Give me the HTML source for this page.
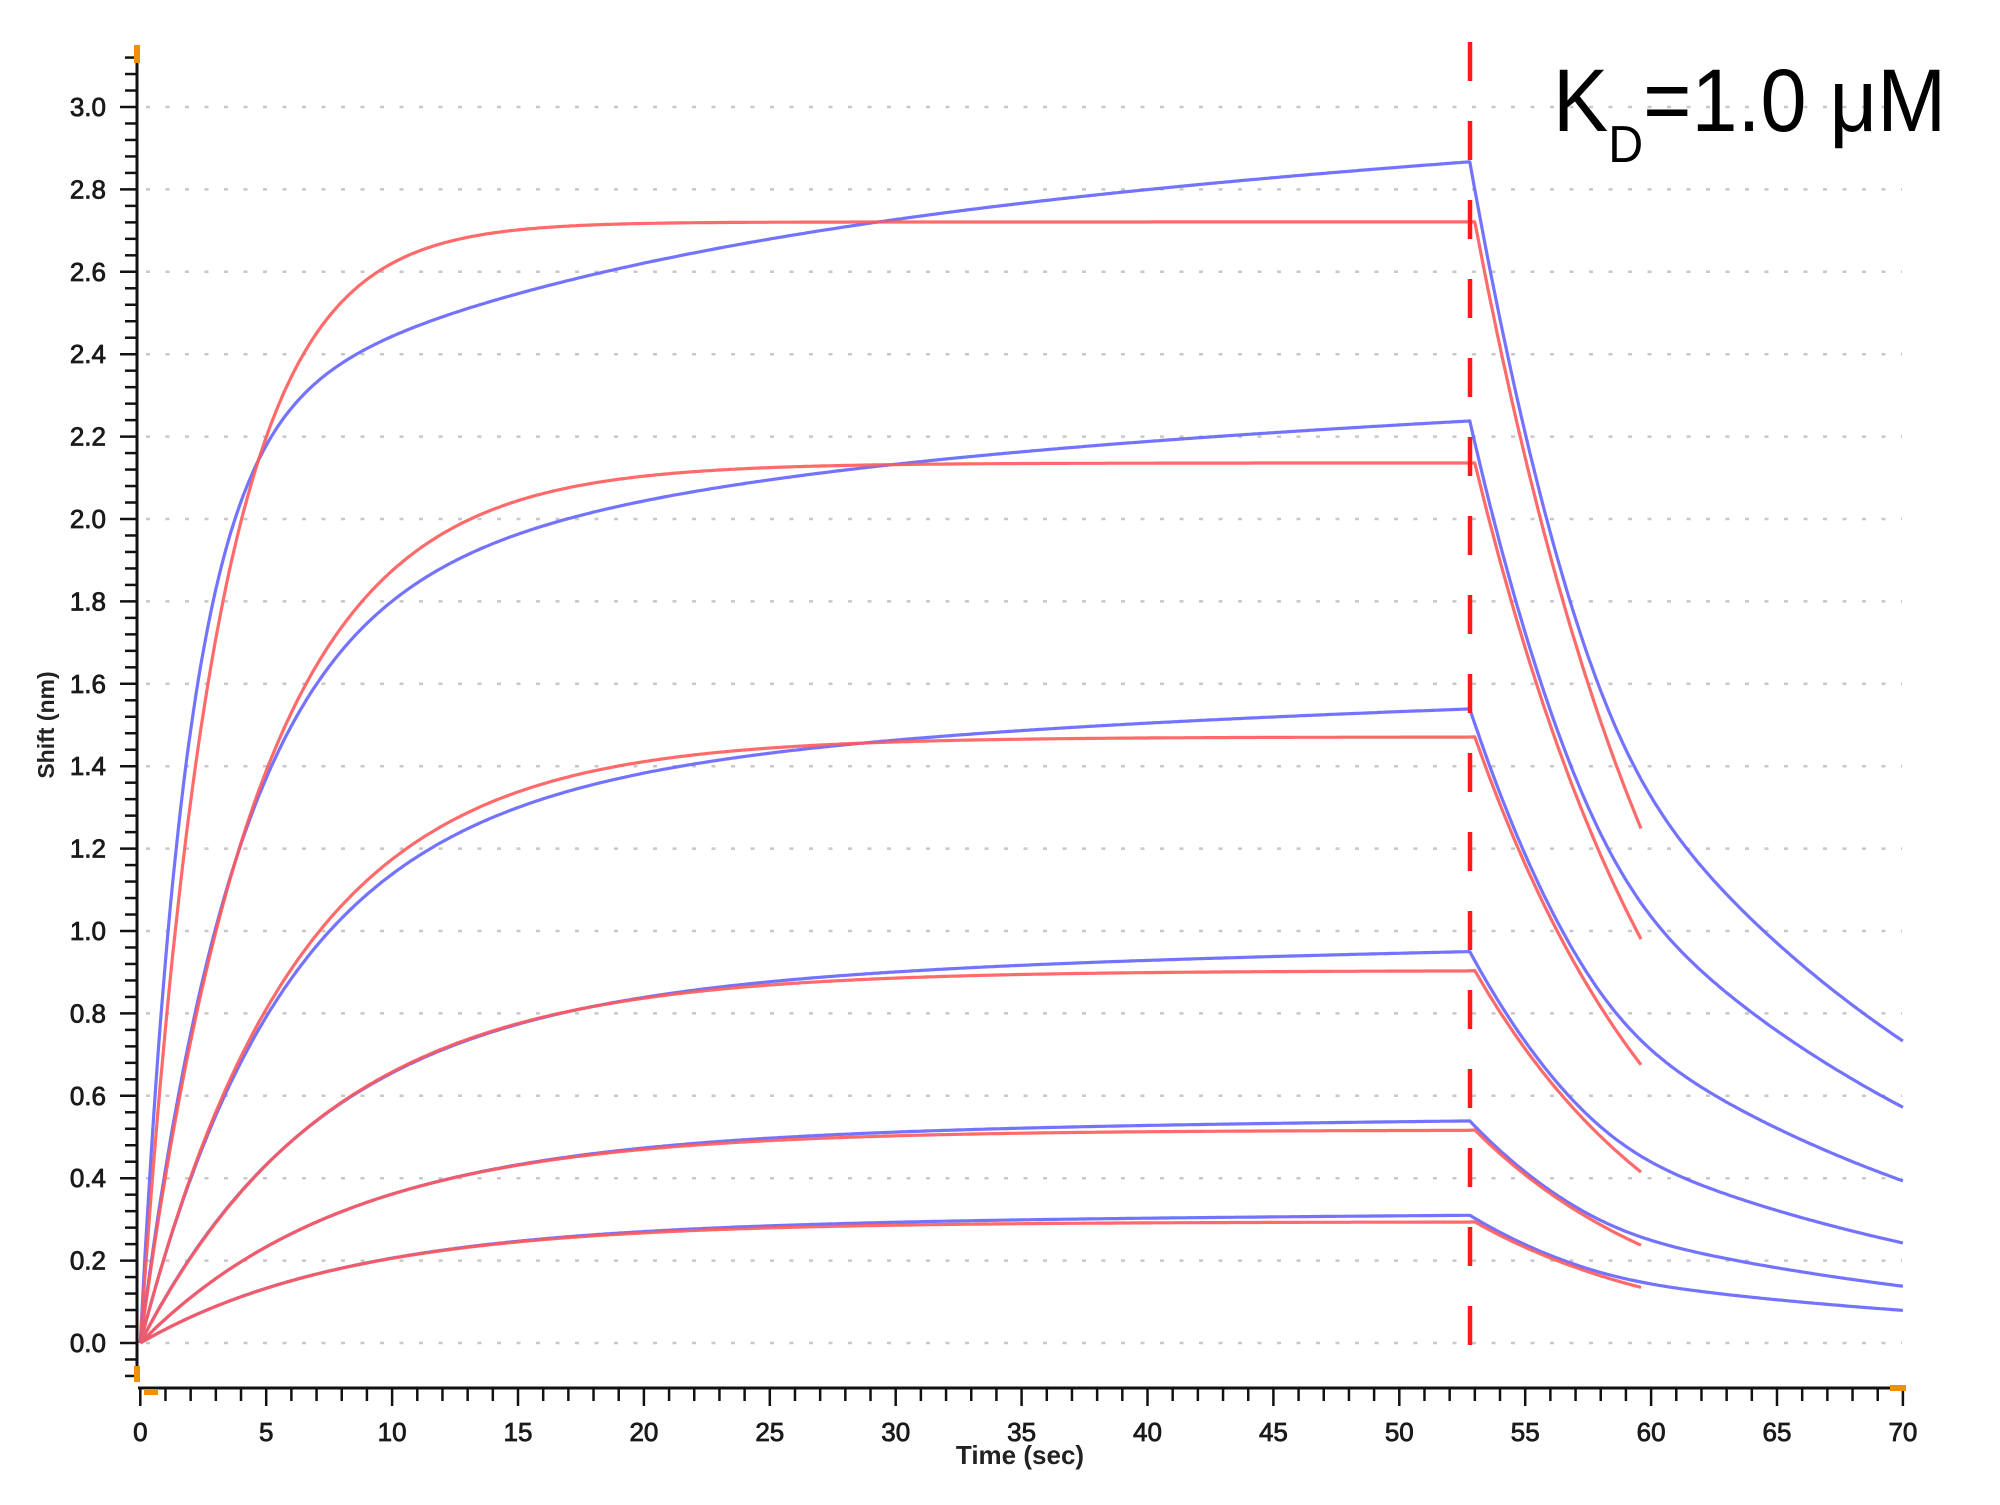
<!DOCTYPE html>
<html><head><meta charset="utf-8"><style>
html,body{margin:0;padding:0;background:#fff;}
svg{display:block;}
text{font-family:"Liberation Sans",Arial,sans-serif;}
</style></head><body>
<svg id="s" width="2000" height="1505" viewBox="0 0 2000 1505" xmlns="http://www.w3.org/2000/svg">
<g id="grid"></g>
<g id="axes" stroke="#111" stroke-width="3"></g>
<g id="labels" font-size="26" fill="#1a1a1a" stroke="#1a1a1a" stroke-width="0.8"></g>
<g id="curves" fill="none" stroke-width="3.2" stroke-linejoin="round"></g>
<line x1="1470" y1="42" x2="1470" y2="1345" stroke="#ff1a1a" stroke-width="4.5" stroke-dasharray="39,40"/>
<rect x="134" y="45" width="6" height="18" fill="#f0900a"/>
<rect x="134" y="1366" width="6" height="16" fill="#f0900a"/>
<rect x="144" y="1389" width="14" height="6" fill="#f0900a"/>
<rect x="1890" y="1385" width="16" height="6" fill="#f0900a"/>
<text x="1020" y="1464" font-size="26" font-weight="bold" text-anchor="middle" fill="#222">Time (sec)</text>
<text transform="translate(54,725) rotate(-90)" font-size="23" font-weight="bold" text-anchor="middle" fill="#222">Shift (nm)</text>
<g transform="translate(1553,0) scale(0.93,1)">
<text x="0" y="131" font-size="89" fill="#000">K<tspan font-size="52" dy="31">D</tspan><tspan dy="-31">=1.0 μM</tspan></text>
</g>
</svg>
<script>
var NS="http://www.w3.org/2000/svg";
function X(t){return 140.3+25.18*t;}
function Y(v){return 1343-v*412;}
function el(p,tag,a){var e=document.createElementNS(NS,tag);for(var k in a)e.setAttribute(k,a[k]);p.appendChild(e);return e;}
var grid=document.getElementById('grid'),axes=document.getElementById('axes'),lab=document.getElementById('labels'),cv=document.getElementById('curves');
for(var i=0;i<=15;i++){var y=Y(i*0.2);
 el(grid,'line',{x1:146,y1:y,x2:1902,y2:y,stroke:'#c8c8c8','stroke-width':2.5,'stroke-dasharray':'4,15.5'});
 var t=el(lab,'text',{x:106,y:y+9,'text-anchor':'end'});t.textContent=(i*0.2).toFixed(1);}
el(axes,'line',{x1:137,y1:51,x2:137,y2:1380});
for(var j=-8;j<=78;j++){var v=j*0.04,y=Y(v);if(y<55||y>1380)continue;var maj=(j%5==0);
 el(axes,'line',{x1:maj?120:125,y1:y,x2:137,y2:y,'stroke-width':2.5});}
el(axes,'line',{x1:138,y1:1388,x2:1906,y2:1388});
for(var s=0;s<=70;s++){var x=X(s),maj=(s%5==0);
 el(axes,'line',{x1:x,y1:1388,x2:x,y2:maj?1406:1401,'stroke-width':2.5});
 if(maj){var t=el(lab,'text',{x:x,y:1441,'text-anchor':'middle'});t.textContent=s;}}
var R=[2.721,2.136,1.471,0.904,0.517,0.294],K=[0.33,0.21,0.16,0.13,0.12,0.12],B=[2.867,2.238,1.539,0.950,0.539,0.310];
var KM=[1.6,1.25,1.15,1.1,1.05,1.05],AF=[0.8,0.8,0.8,0.85,0.9,0.9];
var T0=52.8;
function path(pts,col){var d='M'+pts.map(function(p){return p[0].toFixed(1)+','+p[1].toFixed(1)}).join('L');
 el(cv,'path',{d:d,stroke:col});}
for(var c=0;c<6;c++){
 var r=R[c],k=K[c];
 var p=[];for(var t=0;t<=T0;t+=0.1)p.push([X(t),Y(r*(1-Math.exp(-k*t)))]);
 p.push([X(53.0),Y(r)]);
 for(var t=53.0;t<=59.7;t+=0.1)p.push([X(t),Y(r*Math.exp(-0.118*(t-53.0)))]);
 var a=AF[c]*r,kf=KM[c]*k,b=(1-AF[c])*r,ks=0.06;
 var dr=(B[c]-a*(1-Math.exp(-kf*T0))-b*(1-Math.exp(-ks*T0)))/T0;
 var q=[];for(var t=0;t<=T0;t+=0.1)q.push([X(t),Y(a*(1-Math.exp(-kf*t))+b*(1-Math.exp(-ks*t))+dr*t)]);
 var I=0;
 for(var n=0;n<=172;n++){var dt=n*0.1;
  q.push([X(T0+dt),Y(B[c]*Math.exp(-I))]);
  var rate=0.056+0.064/(1+Math.exp((dt-6.2)/1.3));
  I+=rate*0.1;}
 path(q,'rgba(100,100,255,0.9)');
 path(p,'rgba(255,90,90,0.9)');
}
</script>
</body></html>
